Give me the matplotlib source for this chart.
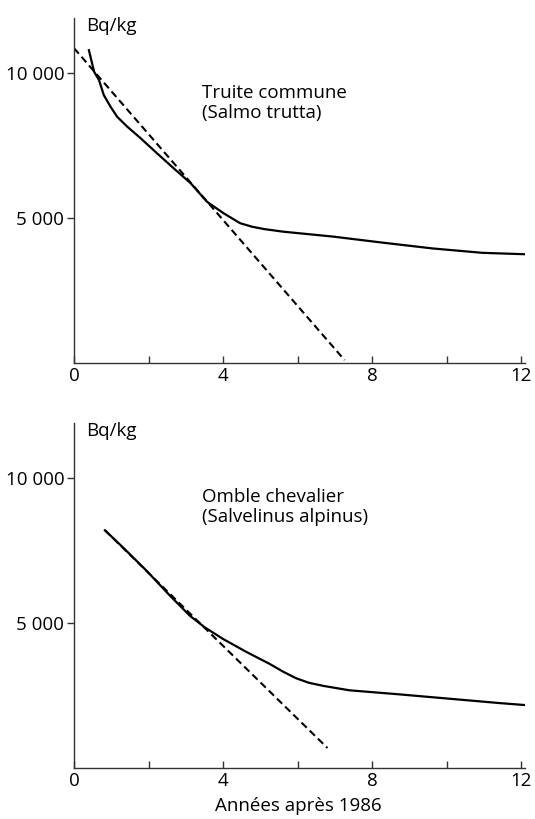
import matplotlib.pyplot as plt
import numpy as np

plt.rcParams['font.family'] = ['Open Sans', 'DejaVu Sans']

# Truite commune (Salmo trutta)
truite_x = [0.40, 0.54, 0.67, 0.80, 0.98, 1.16, 1.43, 1.79, 2.23, 2.68, 3.13, 3.57,
            4.02, 4.46, 4.78, 5.10, 5.61, 6.95, 8.29, 9.63, 10.96, 12.13]
truite_y = [10790, 10045, 9760, 9240, 8840, 8490, 8150, 7750, 7230, 6710, 6200, 5560,
            5160, 4820, 4700, 4620, 4530, 4360, 4150, 3950, 3800, 3750]
truite_fit_x = [0.0, 7.26]
truite_fit_y = [10860, 100]

# Omble chevalier (Salvelinus alpinus)
omble_x = [0.83, 1.32, 1.95, 2.57, 3.11, 3.51, 4.0, 4.63, 5.25, 5.60, 5.95, 6.30,
           6.70, 7.39, 8.73, 10.07, 11.41, 12.21]
omble_y = [8200, 7600, 6800, 5950, 5250, 4850, 4450, 4000, 3590, 3330, 3100, 2940,
           2830, 2680, 2540, 2390, 2240, 2160]
omble_fit_x = [0.83, 6.8]
omble_fit_y = [8200, 690]

x_major = [0, 4, 8, 12]
x_minor = [2, 6, 10]
y_ticks = [5000, 10000]
y_labels = ["5 000", "10 000"]

W, H = 535, 819
fig = plt.figure(figsize=(W / 100, H / 100), dpi=100)


def px(x, y):
    return x / W, 1 - y / H


def setup(ax):
    for s in ['top', 'right']:
        ax.spines[s].set_visible(False)
    for s in ['left', 'bottom']:
        ax.spines[s].set_color('#333333')
        ax.spines[s].set_linewidth(1.0)
    ax.set_xlim(0, 12.1)
    ax.set_ylim(0, 11900)
    ax.set_xticks(x_major)
    ax.set_xticks(x_minor, minor=True)
    ax.set_yticks(y_ticks)
    ax.set_yticklabels(y_labels)
    ax.tick_params(axis='x', which='both', direction='in', length=5, width=1,
                   color='#333333', labelsize=13.5, pad=3)
    ax.tick_params(axis='y', direction='out', length=5, width=1,
                   color='#333333', labelsize=13.5, pad=2)


ax1 = fig.add_axes([74 / W, 1 - 363 / H, 451 / W, 345 / H])
setup(ax1)
ax1.plot(truite_x, truite_y, color='black', lw=1.6, solid_joinstyle='round')
ax1.plot(truite_fit_x, truite_fit_y, color='black', lw=1.5, ls=(0, (3.5, 2)))

ax2 = fig.add_axes([74 / W, 1 - 768 / H, 451 / W, 345 / H])
setup(ax2)
ax2.plot(omble_x, omble_y, color='black', lw=1.6, solid_joinstyle='round')
ax2.plot(omble_fit_x, omble_fit_y, color='black', lw=1.5, ls=(0, (3.5, 2)))

fig.text(*px(86, 26), "Bq/kg", fontsize=13.5, va='center', ha='left')
fig.text(*px(86, 431), "Bq/kg", fontsize=13.5, va='center', ha='left')

fig.text(*px(202, 103), "Truite commune\n(Salmo trutta)", fontsize=13.5,
         va='center', ha='left', linespacing=1.2)
fig.text(*px(202, 507), "Omble chevalier\n(Salvelinus alpinus)", fontsize=13.5,
         va='center', ha='left', linespacing=1.2)

fig.text(*px(298, 806), "Années après 1986", fontsize=13.5, va='center', ha='center')

fig.savefig("out.png", dpi=100)
